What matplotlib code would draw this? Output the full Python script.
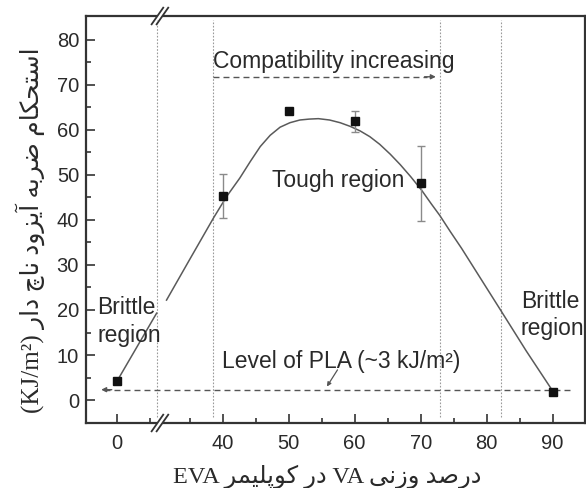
import numpy as np
import matplotlib
matplotlib.use('Agg')
import matplotlib.pyplot as plt
from matplotlib.ticker import FixedLocator, NullFormatter
from matplotlib.lines import Line2D
from matplotlib.patches import Polygon
from matplotlib.transforms import IdentityTransform

# ---------------- data ----------------
va_content = [0, 40, 50, 60, 70, 90]
impact_strength = [4.2, 45.3, 64.3, 61.9, 48.1, 1.8]
impact_err = [0, 4.8, 0, 2.3, 8.4, 0]

# fitted trend curve, split at the axis break
fit_left_x = [0, 6.0]
fit_left_y = [4.2, 19.3]
fit_right_x = [31.5, 35.0, 38.6, 40.6, 42.6, 44.2, 45.7, 47.2, 48.7, 50.2, 51.7,
               53.1, 54.5, 56.2, 57.8, 59.3, 60.8, 62.3, 63.8, 65.4, 66.9, 68.5,
               70.2, 71.6, 72.9, 74.5, 76.2, 79.0, 82.1, 86.0, 90.1]
fit_right_y = [22.2, 31.2, 40.4, 45.2, 49.3, 53.0, 56.3, 58.8, 60.6, 61.6, 62.2,
               62.4, 62.5, 62.2, 61.6, 60.8, 59.8, 58.5, 56.8, 54.6, 52.3, 49.6,
               46.5, 43.6, 41.0, 37.4, 33.7, 27.2, 20.0, 10.9, 1.8]

region_bounds = [6.0, 38.5, 72.9, 82.2]
pla_level = 2.3
x_major = [0, 40, 50, 60, 70, 80, 90]
x_minor = [5, 35, 45, 55, 65, 75, 85]
y_major = [0, 10, 20, 30, 40, 50, 60, 70, 80]
y_minor = [5, 15, 25, 35, 45, 55, 65, 75]

xlabel_fa = "درصد وزنی VA در کوپلیمر EVA"
ylabel_fa = "استحکام ضربه آیزود ناچ دار (KJ/m²)"

# ---------------- minimal Persian shaping (matplotlib has no complex text layout) -------------
FORMS = {  # isolated, final, initial, medial
    '\u0627': ('\uFE8D', '\uFE8E', None, None),
    '\u0622': ('\uFE81', '\uFE82', None, None),
    '\u0628': ('\uFE8F', '\uFE90', '\uFE91', '\uFE92'),
    '\u067E': ('\uFB56', '\uFB57', '\uFB58', '\uFB59'),
    '\u062A': ('\uFE95', '\uFE96', '\uFE97', '\uFE98'),
    '\u0686': ('\uFB7A', '\uFB7B', '\uFB7C', '\uFB7D'),
    '\u062D': ('\uFEA1', '\uFEA2', '\uFEA3', '\uFEA4'),
    '\u062F': ('\uFEA9', '\uFEAA', None, None),
    '\u0631': ('\uFEAD', '\uFEAE', None, None),
    '\u0632': ('\uFEAF', '\uFEB0', None, None),
    '\u0633': ('\uFEB1', '\uFEB2', '\uFEB3', '\uFEB4'),
    '\u0635': ('\uFEB9', '\uFEBA', '\uFEBB', '\uFEBC'),
    '\u0636': ('\uFEBD', '\uFEBE', '\uFEBF', '\uFEC0'),
    '\u06A9': ('\uFB8E', '\uFB8F', '\uFB90', '\uFB91'),
    '\u0644': ('\uFEDD', '\uFEDE', '\uFEDF', '\uFEE0'),
    '\u0645': ('\uFEE1', '\uFEE2', '\uFEE3', '\uFEE4'),
    '\u0646': ('\uFEE5', '\uFEE6', '\uFEE7', '\uFEE8'),
    '\u0647': ('\uFEE9', '\uFEEA', '\uFEEB', '\uFEEC'),
    '\u0648': ('\uFEED', '\uFEEE', None, None),
    '\u06CC': ('\uFBFC', '\uFBFD', '\uFBFE', '\uFBFF'),
}


def shape_word(w):
    w = w.replace('\u0643', '\u06A9').replace('\u064A', '\u06CC')
    out = []
    for i, ch in enumerate(w):
        f = FORMS.get(ch)
        if f is None:
            out.append(ch)
            continue
        prev = w[i - 1] if i > 0 else None
        nxt = w[i + 1] if i < len(w) - 1 else None
        jp = prev in FORMS and FORMS[prev][2] is not None
        jn = nxt in FORMS and f[2] is not None
        out.append(f[3] if (jp and jn) else f[1] if jp else f[2] if jn else f[0])
    return ''.join(reversed(out))


def rtl(text):
    words = text.split(' ')
    vis = [shape_word(w) if any(('\u0600' <= c <= '\u06FF') for c in w) else w for w in words]
    return ' '.join(reversed(vis))


# ---------------- broken x axis via a function scale ----------------
BRK_LO, BRK_HI = 6.5, 30.5
GAP = BRK_HI - BRK_LO


def fwd(x):
    x = np.asarray(x, dtype=float)
    return np.where(x <= BRK_LO, x, np.where(x >= BRK_HI, x - GAP, BRK_LO))


def inv(u):
    u = np.asarray(u, dtype=float)
    return np.where(u <= BRK_LO, u, u + GAP)


SANS = ['Liberation Sans', 'DejaVu Sans']
SERIF_FA = ['Liberation Serif', 'DejaVu Sans']
TXT = '#2a2a2a'
AX = '#333333'

fig = plt.figure(figsize=(5.86, 4.88), dpi=100)
ax = fig.add_axes([86 / 586, 65 / 488, 499 / 586, 407 / 488])
ax.set_xscale('function', functions=(fwd, inv))
ax.set_xlim(-4.7, 94.9)
ax.set_ylim(-5.1, 85.3)

# region boundaries
for xb in region_bounds:
    ax.plot([xb, xb], [-3.8, 84.5], color='#9a9a9a', lw=0.8, ls=(0, (1.5, 1.5)), zorder=1)

# fitted curve
ax.plot(fit_left_x, fit_left_y, color='#5a5a5a', lw=1.1, zorder=2)
ax.plot(fit_right_x, fit_right_y, color='#5a5a5a', lw=1.1, zorder=2)

# error bars and points
ex = [x for x, e in zip(va_content, impact_err) if e > 0]
ey = [y for y, e in zip(impact_strength, impact_err) if e > 0]
ee = [e for e in impact_err if e > 0]
ax.errorbar(ex, ey, yerr=ee, fmt='none', ecolor='#8a8a8a', elinewidth=1.0,
            capsize=3.2, capthick=1.0, zorder=3)
ax.plot(va_content, impact_strength, ls='none', marker='s', ms=5.2,
        color='#111111', zorder=4)

# PLA level dashed line with left arrow
ax.plot([-2.0, 92.6], [pla_level, pla_level], color='#555555', lw=1.0,
        ls=(0, (4.3, 2.9)), zorder=2)
ax.annotate('', xy=(-2.4, pla_level), xytext=(-0.8, pla_level),
            arrowprops=dict(arrowstyle='-|>', color='#555555', lw=1.0,
                            mutation_scale=7, shrinkA=0, shrinkB=0))

# compatibility arrow
ax.plot([38.5, 71.0], [71.8, 71.8], color='#555555', lw=1.0,
        ls=(0, (4.3, 2.9)), zorder=2)
ax.annotate('', xy=(72.3, 71.8), xytext=(70.6, 71.8),
            arrowprops=dict(arrowstyle='-|>', color='#555555', lw=1.0,
                            mutation_scale=7, shrinkA=0, shrinkB=0))

# annotations
fs = 16.5
ax.text(56.9, 73.8, 'Compatibility increasing', fontsize=fs, family=SANS,
        color=TXT, ha='center', va='baseline')
ax.text(47.5, 47.3, 'Tough region', fontsize=fs, family=SANS, color=TXT,
        ha='left', va='baseline')
ax.text(-3.0, 12.9, 'Brittle\nregion', fontsize=fs, family=SANS, color=TXT,
        ha='left', va='baseline', linespacing=1.25)
ax.text(85.2, 14.4, 'Brittle\nregion', fontsize=fs, family=SANS, color=TXT,
        ha='left', va='baseline', linespacing=1.25)
ax.text(39.9, 7.1, 'Level of PLA (~3 kJ/m\u00b2)', fontsize=fs, family=SANS,
        color=TXT, ha='left', va='baseline')
ax.annotate('', xy=(55.8, 3.0), xytext=(57.4, 6.7),
            arrowprops=dict(arrowstyle='-|>', color='#555555', lw=0.9,
                            mutation_scale=6, shrinkA=0, shrinkB=0))

# ticks
ax.xaxis.set_major_locator(FixedLocator(x_major))
ax.xaxis.set_minor_locator(FixedLocator(x_minor))
ax.xaxis.set_minor_formatter(NullFormatter())
ax.set_xticklabels([str(v) for v in x_major])
ax.yaxis.set_major_locator(FixedLocator(y_major))
ax.yaxis.set_minor_locator(FixedLocator(y_minor))
ax.tick_params(which='both', direction='in', color=AX, width=1.2,
               top=False, right=False)
ax.tick_params(which='major', length=6.5)
ax.tick_params(which='minor', length=3.5)
ax.tick_params(axis='x', which='major', pad=8)
ax.tick_params(axis='y', which='major', pad=5)
for lab in ax.get_xticklabels() + ax.get_yticklabels():
    lab.set_family(SANS)
    lab.set_fontsize(14.5)
    lab.set_color(TXT)

for side in ['left', 'bottom', 'top', 'right']:
    ax.spines[side].set_color(AX)
    ax.spines[side].set_linewidth(1.6)

# axis labels (Persian, shaped for display)
ax.set_xlabel(rtl(xlabel_fa), family=SERIF_FA, fontsize=17.5, color=TXT)
ax.xaxis.label.set_va('baseline')
ax.xaxis.set_label_coords(0.484, -0.147)
ax.set_ylabel(rtl(ylabel_fa), family=SERIF_FA, fontsize=18, color=TXT)
ax.yaxis.label.set_va('center')
ax.yaxis.set_label_coords(-0.112, 0.474)

# axis-break marks
xt = ax.get_xaxis_transform()
for yfrac in (0, 1):
    bx, by = xt.transform((BRK_LO, yfrac))
    gap_poly = Polygon([(bx - 2.5 - 1.75, by - 2.5), (bx + 2.5 - 1.75, by - 2.5),
                        (bx + 2.5 + 1.75, by + 2.5), (bx - 2.5 + 1.75, by + 2.5)],
                       closed=True, facecolor='white', edgecolor='none',
                       transform=IdentityTransform(), zorder=5)
    fig.add_artist(gap_poly)
    for off in (-2.5, 2.5):
        fig.add_artist(Line2D([bx + off - 5.8, bx + off + 5.8], [by - 8.3, by + 8.3],
                              color=AX, lw=1.3, transform=IdentityTransform(), zorder=6))

fig.savefig('out.png', dpi=100)
